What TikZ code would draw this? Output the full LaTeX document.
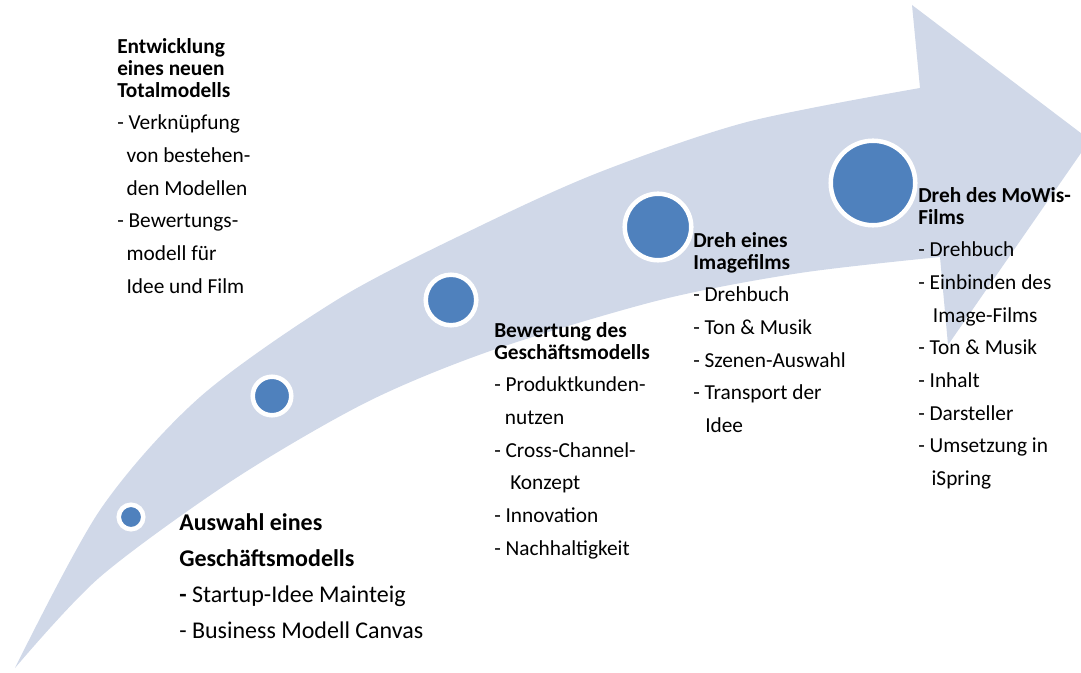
\documentclass[tikz,border=0pt]{standalone}
\usepackage{fontspec}
\setmainfont{Carlito}
\usepackage{tikz}

\definecolor{bandblue}{RGB}{208,216,232}
\definecolor{dotblue}{RGB}{79,129,189}

\begin{document}
\begin{tikzpicture}[x=0.75pt, y=-0.75pt,
  dot/.style={circle, fill=dotblue, draw=white, line width=3.4pt, inner sep=0pt},
  txt/.style={anchor=north west, inner sep=0pt, align=left, font=\fontsize{16}{16.5}\selectfont},
  bigtxt/.style={anchor=north west, inner sep=0pt, align=left, font=\fontsize{18}{27}\selectfont}]

\useasboundingbox (0,0) rectangle (1081,673);
\clip (0,0) rectangle (1081,673);

% curved arrow
\fill [bandblue] plot [smooth] coordinates {(15,668) (100,510) (200,397) (340,298) (480,226) (600,172) (747,122) (920,88)}
  -- (912,5) -- (1090,140) -- (948,345) -- (940,257)
  -- plot [smooth] coordinates {(940,257) (800,273) (660,300) (493,350) (367,402) (233,480) (100,577) (15,668)} -- cycle;

% milestones
\node [dot, minimum size=18.4pt] (d1) at (131,517) {};
\node [dot, minimum size=28.9pt] (d2) at (272,396) {};
\node [dot, minimum size=37.9pt] (d3) at (451,300) {};
\node [dot, minimum size=49.9pt] (d4) at (658,227) {};
\node [dot, minimum size=63.4pt] (d5) at (873,183) {};

\node [bigtxt] (auswahl) at (179,513) {\textbf{Auswahl eines}\\ \textbf{Geschäftsmodells}\\ \textbf{-} Startup-Idee Mainteig\\ - Business Modell Canvas};

\node [txt] (total) at (117,38) {\textbf{Entwicklung}\\ \textbf{eines neuen}\\ \textbf{Totalmodells}\\[8pt]
  - Verknüpfung\\[8pt] \hspace*{7pt}von bestehen-\\[8pt] \hspace*{7pt}den Modellen\\[8pt]
  - Bewertungs-\\[8pt] \hspace*{7pt}modell für\\[8pt] \hspace*{7pt}Idee und Film};

\node [txt] (bewertung) at (494,322) {\textbf{Bewertung des}\\ \textbf{Geschäftsmodells}\\[8pt]
  - Produktkunden-\\[8pt] \hspace*{8pt}nutzen\\[8pt] - Cross-Channel-\\[8pt] \hspace*{12pt}Konzept\\[8pt]
  - Innovation\\[8pt] - Nachhaltigkeit};

\node [txt] (image) at (693,232) {\textbf{Dreh eines}\\ \textbf{Imagefilms}\\[8pt]
  - Drehbuch\\[8pt] - Ton \& Musik\\[8pt] - Szenen-Auswahl\\[8pt] - Transport der\\[8pt] \hspace*{9pt}Idee};

\node [txt] (mowis) at (918,187) {\textbf{Dreh des MoWis-}\\ \textbf{Films}\\[8pt]
  - Drehbuch\\[8pt] - Einbinden des\\[8pt] \hspace*{11pt}Image-Films\\[8pt] - Ton \& Musik\\[8pt]
  - Inhalt\\[8pt] - Darsteller\\[8pt] - Umsetzung in\\[8pt] \hspace*{10pt}iSpring};

\end{tikzpicture}
\end{document}
